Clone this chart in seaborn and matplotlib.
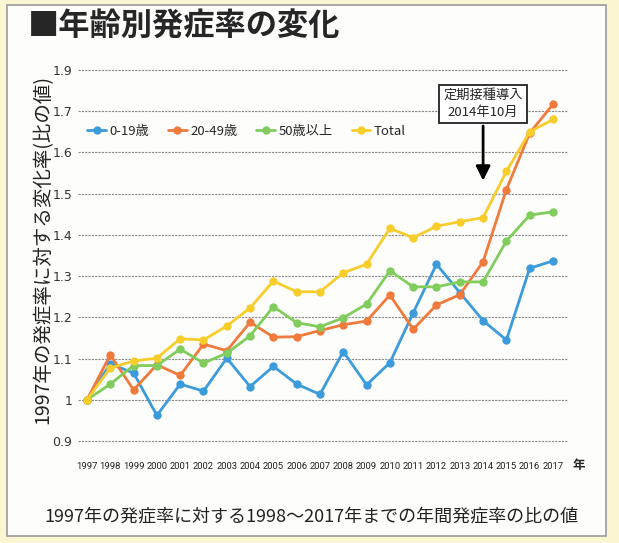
import pandas as pd
import numpy as np
import seaborn as sns
from matplotlib import pyplot as plt
from matplotlib.patches import Rectangle

years = list(range(1997, 2018))
age_0_19 = [1.0, 1.087, 1.065, 0.962, 1.038, 1.021, 1.101, 1.032, 1.081, 1.038, 1.013,
            1.117, 1.036, 1.090, 1.211, 1.329, 1.26, 1.192, 1.145, 1.319, 1.337]
age_20_49 = [1.0, 1.109, 1.024, 1.085, 1.059, 1.135, 1.119, 1.188, 1.152, 1.153, 1.168,
             1.182, 1.191, 1.254, 1.171, 1.230, 1.255, 1.335, 1.510, 1.647, 1.717]
age_50_up = [1.0, 1.038, 1.083, 1.083, 1.123, 1.089, 1.113, 1.155, 1.226, 1.187, 1.177,
             1.199, 1.232, 1.313, 1.274, 1.274, 1.286, 1.286, 1.385, 1.448, 1.456]
total = [1.0, 1.077, 1.094, 1.101, 1.148, 1.145, 1.179, 1.223, 1.288, 1.262, 1.262,
         1.308, 1.329, 1.416, 1.393, 1.421, 1.432, 1.442, 1.554, 1.650, 1.680]

series_names = ['0-19歳', '20-49歳', '50歳以上', 'Total']
colors = ['#3b9bdb', '#f07a3c', '#80cc5c', '#f7cd2c']
y_ticks = [0.9, 1.0, 1.1, 1.2, 1.3, 1.4, 1.5, 1.6, 1.7, 1.8]
y_tick_labels = ['0.9', '1', '1.1', '1.2', '1.3', '1.4', '1.5', '1.6', '1.7', '1.9']

df = pd.DataFrame({'year': years * 4,
                   'ratio': age_0_19 + age_20_49 + age_50_up + total,
                   'group': np.repeat(series_names, len(years))})

sns.set_style('white')
jp = ['Noto Sans CJK JP', 'DejaVu Sans']
plt.rcParams['font.family'] = jp

fig = plt.figure(figsize=(6.19, 5.43), dpi=100)
fig.patch.set_facecolor('#fbf6d2')
# white panel with gray border, kept behind the axes
fig.patches.append(Rectangle((7 / 619, 1 - 536 / 543), 599 / 619, 531 / 543, transform=fig.transFigure,
                             facecolor='#fdfdfb', edgecolor='#9a9a9a', linewidth=1.2, zorder=-10))

ax = fig.add_axes([78 / 619, 0.1727, 490 / 619, 0.8862 - 0.1727])
ax.set_facecolor('none')

sns.lineplot(data=df, x='year', y='ratio', hue='group', hue_order=series_names,
             palette=colors, marker='o', markersize=6, markeredgewidth=0,
             linewidth=2, ax=ax)

ax.set_xlim(1996.614, 2017.644)
ax.set_ylim(0.88, 1.82)
ax.set_yticks(y_ticks)
ax.set_yticklabels(y_tick_labels, fontsize=9, color='#333333', family='DejaVu Sans')
ax.set_xticks(years)
ax.set_xticklabels([str(y) for y in years], fontsize=6.8, color='#222222', family='Roboto')
ax.tick_params(axis='both', length=0)
ax.tick_params(axis='x', pad=9)
ax.tick_params(axis='y', pad=4)
for s in ax.spines.values():
    s.set_visible(False)
ax.grid(axis='y', color='#8a8a8a', linestyle=(0, (2, 1)), linewidth=0.8)
ax.grid(axis='x', visible=False)
ax.set_axisbelow(True)
ax.set_xlabel('')
ax.set_ylabel('')

ax.legend(loc='center left', bbox_to_anchor=(-0.005, 0.821), ncol=4, frameon=False,
          fontsize=9.5, handlelength=1.4, columnspacing=1.4, handletextpad=0.3)

ax.annotate('定期接種導入\n2014年10月', xy=(2014, 1.525), xytext=(2014, 1.718),
            ha='center', va='center', fontsize=9.5, linespacing=1.35,
            bbox=dict(boxstyle='square,pad=0.3', facecolor='white', edgecolor='#222222', linewidth=1.3),
            arrowprops=dict(arrowstyle='-|>,head_width=0.45,head_length=0.9', color='black', linewidth=2))

fig.text(43 / 619, 1 - 250 / 543, '1997年の発症率に対する変化率(比の値)', rotation=90,
         fontsize=14, va='center', ha='center', color='#222222')
fig.text(573 / 619, 1 - 465 / 543, '年', fontsize=9, fontweight='bold', va='center', ha='left')
fig.text(28 / 619, 1 - 27 / 543, '■年齢別発症率の変化', fontsize=22.5, fontweight='bold', va='center', ha='left')
fig.text(311 / 619, 1 - 516 / 543, '1997年の発症率に対する1998～2017年までの年間発症率の比の値',
         fontsize=13, va='center', ha='center', color='#222222')

plt.savefig('out.png', dpi=100, facecolor=fig.get_facecolor())
